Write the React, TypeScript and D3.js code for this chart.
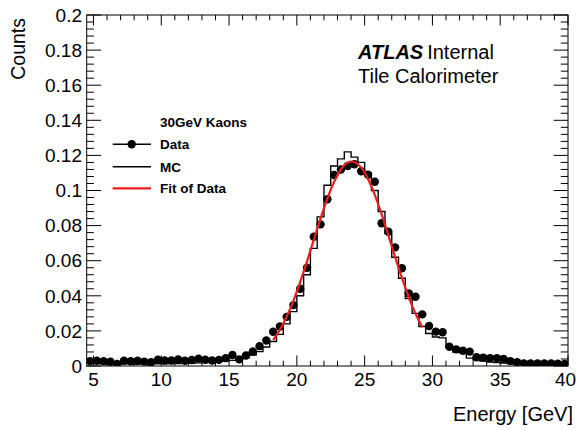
import React from "react";
import * as d3 from "d3";

// Histogram binning (GeV)
const X_MIN = 4.5;
const X_MAX = 40;
const BIN_WIDTH = 0.5;

// Normalised counts per 0.5 GeV bin, first bin centred at 4.75 GeV
const dataCounts = [
  0.0028, 0.0030, 0.0027, 0.0024, 0.0012, 0.0030, 0.0027, 0.0030, 0.0025, 0.0021,
  0.0036, 0.0031, 0.0031, 0.0037, 0.0030, 0.0034, 0.0042, 0.0036, 0.0031, 0.0035,
  0.0045, 0.0063, 0.0038, 0.0060, 0.0083, 0.0113, 0.0145, 0.0195, 0.0225, 0.0280,
  0.0347, 0.0440, 0.0560, 0.0737, 0.0807, 0.0950, 0.1088, 0.1120, 0.1140, 0.1150,
  0.1110, 0.1090, 0.1050, 0.0813, 0.0765, 0.0676, 0.0557, 0.0414, 0.0395, 0.0294,
  0.0228, 0.0196, 0.0192, 0.0110, 0.0095, 0.0087, 0.0082, 0.0050, 0.0048, 0.0045,
  0.0045, 0.0040, 0.0028, 0.0022, 0.0015, 0.0015, 0.0015, 0.0014, 0.0014, 0.0013,
  0.0012,
];

const mcCounts = [
  0.0015, 0.0014, 0.0013, 0.0012, 0.0012, 0.0013, 0.0012, 0.0011, 0.0012, 0.0012,
  0.0013, 0.0013, 0.0014, 0.0014, 0.0015, 0.0016, 0.0018, 0.0020, 0.0022, 0.0025,
  0.0028, 0.0032, 0.0038, 0.0048, 0.0062, 0.0082, 0.0108, 0.0140, 0.0180, 0.0240,
  0.0310, 0.0400, 0.0520, 0.0670, 0.0850, 0.1030, 0.1140, 0.1180, 0.1220, 0.1190,
  0.1160, 0.1100, 0.1000, 0.0880, 0.0755, 0.0620, 0.0500, 0.0385, 0.0300, 0.0225,
  0.0185, 0.0165, 0.0160, 0.0105, 0.0080, 0.0075, 0.0045, 0.0035, 0.0028, 0.0023,
  0.0020, 0.0017, 0.0014, 0.0012, 0.0011, 0.0010, 0.0010, 0.0009, 0.0009, 0.0008,
  0.0008,
];

// Gaussian fit to data, sampled over the fit range
const fitEnergy = [
  18.25, 18.75, 19.25, 19.75, 20.25, 20.75, 21.25, 21.75, 22.25, 22.75, 23.25, 23.75,
  24.25, 24.75, 25.25, 25.75, 26.25, 26.75, 27.25, 27.75, 28.25, 28.75, 29.25,
];
const fitValues = [
  0.0147, 0.0207, 0.0282, 0.0373, 0.0479, 0.0596, 0.0719, 0.0841, 0.0954, 0.1050,
  0.1120, 0.1159, 0.1162, 0.1130, 0.1066, 0.0975, 0.0865, 0.0744, 0.0620, 0.0502,
  0.0393, 0.0299, 0.0221,
];

const legendTitle = "30GeV Kaons";
const legendLabels = ["Data", "MC", "Fit of Data"];

const W = 577;
const H = 430;
const FONT = "'Liberation Sans', Arial, Helvetica, sans-serif";
const FIT_RED = "#ec1c1c";

export default function App() {
  const x = d3.scaleLinear().domain([X_MIN, X_MAX]).range([86.7, 568]);
  const y = d3.scaleLinear().domain([0, 0.2]).range([366, 15]);
  const [x0, x1] = x.range();
  const [yb, yt] = y.range();

  const centres = dataCounts.map((_, i) => X_MIN + (i + 0.5) * BIN_WIDTH);

  const xMajor = x.ticks(7).filter((v) => v >= 5);
  const xMinor = d3.range(5, 41, 1).filter((v) => v % 5 !== 0);
  const yMajor = y.ticks(10);
  const yMinor = d3.range(0, 0.2001, 0.004).filter(
    (v) => Math.abs(v / 0.02 - Math.round(v / 0.02)) > 1e-6
  );

  const xMajLen = 10.5;
  const xMinLen = 5.3;
  const yMajLen = 14.4;
  const yMinLen = 7.2;

  // MC step outline
  let mcPath = "";
  mcCounts.forEach((v, i) => {
    const lo = x(X_MIN + i * BIN_WIDTH);
    const hi = x(X_MIN + (i + 1) * BIN_WIDTH);
    const yy = y(v);
    mcPath += i === 0 ? `M${lo},${yy}` : `L${lo},${yy}`;
    mcPath += `L${hi},${yy}`;
  });

  const fitLine = d3
    .line<number>()
    .x((_, i) => x(fitEnergy[i]))
    .y((d) => y(d))
    .curve(d3.curveNatural)(fitValues);

  const fmt = (v: number) => String(+v.toFixed(3));

  return (
    <svg
      width={W}
      height={H}
      style={{ position: "absolute", left: 0, top: 0, background: "#fff" }}
      fontFamily={FONT}
    >
      <defs>
        <clipPath id="frame">
          <rect x={x0} y={yt} width={x1 - x0} height={yb - yt} />
        </clipPath>
      </defs>

      <g clipPath="url(#frame)">
        {dataCounts.map((v, i) => (
          <circle key={i} cx={x(centres[i])} cy={y(v)} r={4.2} fill="#000" />
        ))}
        <path d={mcPath} fill="none" stroke="#000" strokeWidth={1.4} />
        <path d={fitLine ?? ""} fill="none" stroke={FIT_RED} strokeWidth={2.2} />
      </g>

      {/* frame */}
      <rect x={x0} y={yt} width={x1 - x0} height={yb - yt} fill="none" stroke="#000" strokeWidth={1} />

      {/* ticks on all four sides */}
      <g stroke="#000" strokeWidth={1}>
        {xMajor.map((v) => (
          <g key={"xM" + v}>
            <line x1={x(v)} x2={x(v)} y1={yb} y2={yb - xMajLen} />
            <line x1={x(v)} x2={x(v)} y1={yt} y2={yt + xMajLen} />
          </g>
        ))}
        {xMinor.map((v) => (
          <g key={"xm" + v}>
            <line x1={x(v)} x2={x(v)} y1={yb} y2={yb - xMinLen} />
            <line x1={x(v)} x2={x(v)} y1={yt} y2={yt + xMinLen} />
          </g>
        ))}
        {yMajor.map((v) => (
          <g key={"yM" + v}>
            <line x1={x0} x2={x0 + yMajLen} y1={y(v)} y2={y(v)} />
            <line x1={x1} x2={x1 - yMajLen} y1={y(v)} y2={y(v)} />
          </g>
        ))}
        {yMinor.map((v) => (
          <g key={"ym" + v}>
            <line x1={x0} x2={x0 + yMinLen} y1={y(v)} y2={y(v)} />
            <line x1={x1} x2={x1 - yMinLen} y1={y(v)} y2={y(v)} />
          </g>
        ))}
      </g>

      {/* tick labels */}
      <g fontSize={19} fill="#000">
        {xMajor.map((v) => (
          <text key={"xl" + v} x={Math.min(x(v), 565.5)} y={386} textAnchor="middle">
            {fmt(v)}
          </text>
        ))}
        {yMajor.map((v) => (
          <text key={"yl" + v} x={82} y={y(v) + 6.7} textAnchor="end">
            {fmt(v)}
          </text>
        ))}
      </g>

      {/* axis titles */}
      <text x={573} y={421} textAnchor="end" fontSize={20}>
        Energy [GeV]
      </text>
      <text transform="translate(25,18) rotate(-90)" textAnchor="end" fontSize={19.5}>
        Counts
      </text>

      {/* experiment labels */}
      <text x={358} y={59} fontSize={20}>
        <tspan fontWeight="bold" fontStyle="italic">ATLAS</tspan>
        <tspan dx={4}>Internal</tspan>
      </text>
      <text x={358} y={83} fontSize={20}>
        Tile Calorimeter
      </text>

      {/* legend */}
      <g fontSize={13.5} fontWeight="bold">
        <text x={160} y={127}>{legendTitle}</text>
        <line x1={112.7} x2={151} y1={144.3} y2={144.3} stroke="#000" strokeWidth={1.4} />
        <circle cx={131.7} cy={144.3} r={4.2} fill="#000" />
        <text x={160} y={149}>{legendLabels[0]}</text>
        <line x1={112.7} x2={151} y1={166.7} y2={166.7} stroke="#000" strokeWidth={1.4} />
        <text x={160} y={171.5}>{legendLabels[1]}</text>
        <line x1={112.7} x2={151} y1={188.3} y2={188.3} stroke={FIT_RED} strokeWidth={2.2} />
        <text x={160} y={193}>{legendLabels[2]}</text>
      </g>
    </svg>
  );
}
